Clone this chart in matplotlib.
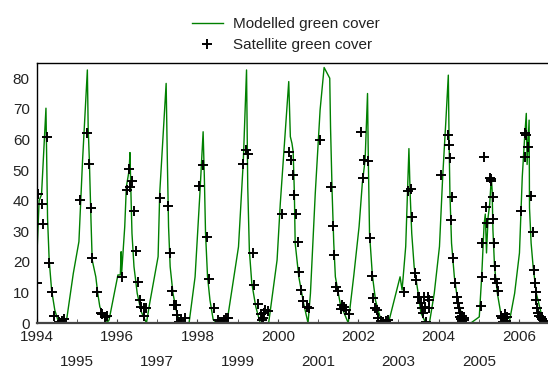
import matplotlib
matplotlib.use("Agg")
import matplotlib.pyplot as plt
import numpy as np

plt.rcParams.update({'font.family': ['Liberation Sans', 'DejaVu Sans'], 'font.size': 11,
                     'text.color': '#222222', 'xtick.color': '#222222', 'ytick.color': '#222222'})

# Modelled green cover (decimal year, %)
model_year = [1994.00, 1994.06, 1994.12, 1994.23, 1994.25, 1994.27, 1994.31, 1994.37, 1994.45, 1994.54,
              1994.62, 1994.75, 1994.91, 1995.05, 1995.14, 1995.26, 1995.28, 1995.31, 1995.35, 1995.38,
              1995.47, 1995.52, 1995.57, 1995.66, 1995.74, 1995.80, 1996.02, 1996.08, 1996.10, 1996.11,
              1996.19, 1996.23, 1996.30, 1996.32, 1996.34, 1996.37, 1996.42, 1996.50, 1996.60, 1996.73,
              1996.81, 1996.93, 1997.02, 1997.06, 1997.22, 1997.25, 1997.28, 1997.32, 1997.39, 1997.47,
              1997.56, 1997.79, 1997.94, 1998.06, 1998.14, 1998.17, 1998.20, 1998.25, 1998.31, 1998.39,
              1998.48, 1998.73, 1999.02, 1999.14, 1999.22, 1999.25, 1999.29, 1999.35, 1999.45, 1999.56,
              1999.77, 1999.98, 2000.06, 2000.27, 2000.31, 2000.35, 2000.38, 2000.41, 2000.43, 2000.52,
              2000.64, 2000.75, 2000.81, 2000.93, 2001.05, 2001.15, 2001.29, 2001.31, 2001.35, 2001.39,
              2001.43, 2001.55, 2001.75, 2001.89, 2002.02, 2002.10, 2002.17, 2002.23, 2002.25, 2002.28,
              2002.35, 2002.43, 2002.56, 2002.68, 2002.76, 2003.04, 2003.09, 2003.18, 2003.26, 2003.29,
              2003.33, 2003.39, 2003.49, 2003.56, 2003.68, 2003.77, 2003.89, 2004.02, 2004.10, 2004.18,
              2004.24, 2004.26, 2004.28, 2004.32, 2004.39, 2004.47, 2004.60, 2004.68, 2004.80, 2005.01,
              2005.07, 2005.13, 2005.16, 2005.19, 2005.23, 2005.27, 2005.31, 2005.33, 2005.35, 2005.39,
              2005.46, 2005.56, 2005.68, 2005.76, 2005.89, 2006.01, 2006.08, 2006.14, 2006.18, 2006.20,
              2006.25, 2006.26, 2006.30, 2006.35, 2006.43, 2006.55, 2006.68]
model_cover = [20.6, 40, 42, 70.2, 53, 34, 20.6, 10.8, 4.2, 0.4,
               0, 1.6, 16.2, 26.6, 53, 82.7, 64, 53, 33.7, 20.6,
               15.1, 9.6, 5.3, 2.5, 0, 1, 15.7, 15.7, 23.3, 15.7,
               31.5, 44.5, 50, 55.7, 44.5, 29.3, 18.4, 9.7, 3.7, 0,
               6.4, 15.1, 21.7, 42.4, 78.3, 53, 31.5, 18.4, 9.7, 4.2,
               0, 0, 15.1, 42.4, 62.5, 47.8, 29.3, 15.1, 7.5, 1.1,
               0, 0, 24.9, 53, 82.7, 44.5, 23.8, 13.1, 5.3, 0,
               0, 20.6, 39.1, 78.9, 60.9, 58.7, 56, 42.4, 26.1, 15.1,
               6.4, 0, 9.7, 42.4, 69.6, 83.5, 80, 63.9, 42.4, 26.1,
               15.1, 6.4, 0, 15.7, 31.5, 45.6, 53.3, 75, 53.3, 29.3,
               15.7, 7.3, 1.1, 0, 0.5, 15.1, 10.8, 25, 57, 42.4,
               29.3, 18.4, 9.7, 3.2, 0, 0, 9.7, 25, 47.8, 66.3,
               81, 58.7, 42.4, 26.1, 15.1, 7.5, 1.6, 0, 0, 2,
               15.1, 32.2, 35.6, 22.9, 34.6, 38.9, 47.7, 43.4, 30.4, 18.4,
               9.7, 2, 0, 0.5, 9.7, 22.9, 47.8, 60.9, 68.5, 51.8,
               66.3, 37.6, 26.1, 18.4, 9.7, 3.2, 0]

# Satellite green cover (decimal year, %)
sat_year = [1994.00, 1994.04, 1994.12, 1994.15, 1994.25, 1994.31, 1994.38, 1994.44, 1994.56, 1994.60,
            1994.64, 1994.69, 1995.08, 1995.24, 1995.31, 1995.34, 1995.38, 1995.49, 1995.59, 1995.62,
            1995.69, 1995.74, 1996.13, 1996.25, 1996.30, 1996.33, 1996.38, 1996.42, 1996.47, 1996.52,
            1996.56, 1996.60, 1996.67, 1996.73, 1996.67, 1997.06, 1997.27, 1997.32, 1997.37, 1997.42,
            1997.46, 1997.49, 1997.53, 1997.60, 1997.70, 1998.04, 1998.14, 1998.24, 1998.29, 1998.42,
            1998.52, 1998.56, 1998.62, 1998.67, 1998.71, 1998.77, 1999.14, 1999.21, 1999.25, 1999.37,
            1999.41, 1999.50, 1999.58, 1999.60, 1999.63, 1999.65, 1999.69, 1999.75, 2000.10, 2000.27,
            2000.33, 2000.37, 2000.40, 2000.45, 2000.49, 2000.53, 2000.58, 2000.62, 2000.72, 2000.77,
            2001.05, 2001.32, 2001.37, 2001.40, 2001.45, 2001.50, 2001.57, 2001.60, 2001.65, 2001.70,
            2001.76, 2002.08, 2002.12, 2002.14, 2002.23, 2002.28, 2002.35, 2002.37, 2002.41, 2002.47,
            2002.50, 2002.56, 2002.62, 2002.68, 2002.75, 2003.14, 2003.24, 2003.30, 2003.33, 2003.41,
            2003.44, 2003.49, 2003.52, 2003.56, 2003.58, 2003.61, 2003.64, 2003.66, 2003.68, 2003.73,
            2003.75, 2003.77, 2004.06, 2004.22, 2004.26, 2004.29, 2004.31, 2004.32, 2004.35, 2004.41,
            2004.45, 2004.47, 2004.50, 2004.52, 2004.54, 2004.56, 2004.57, 2004.58, 2004.60, 2004.62,
            2004.64, 2005.06, 2005.08, 2005.09, 2005.14, 2005.18, 2005.21, 2005.27, 2005.29, 2005.31,
            2005.35, 2005.36, 2005.38, 2005.39, 2005.41, 2005.46, 2005.48, 2005.55, 2005.57, 2005.59,
            2005.61, 2005.63, 2005.65, 2005.67, 2005.69, 2006.05, 2006.14, 2006.14, 2006.17, 2006.22,
            2006.29, 2006.35, 2006.37, 2006.40, 2006.41, 2006.43, 2006.45, 2006.47, 2006.50, 2006.54,
            2006.58, 2006.62, 2006.66]
sat_cover = [13, 42, 38.9, 32.3, 60.7, 19.7, 10, 2.3, 0.3, 0,
             0.5, 1.2, 40.2, 62.2, 52, 37.7, 21.1, 10, 3.2, 3,
             2.1, 2.4, 15.1, 43.5, 50.3, 44.5, 46.5, 36.7, 23.5, 13.5,
             7.5, 5.3, 4.9, 4.9, 2.4, 41, 38.2, 23, 10.6, 5.9,
             5.9, 2.6, 0.4, 1.1, 1.6, 44.8, 51.5, 28.2, 14.4, 4.8,
             1.1, 0.4, 0.1, 1.1, 1.6, 1.6, 51.8, 56.7, 55.1, 23,
             12.4, 6.1, 2.9, 1.1, 1.6, 3.2, 4.2, 3.9, 35.6, 56,
             53.3, 48.4, 41.8, 35.6, 26.4, 16.6, 10.8, 7.2, 5.3, 4.9,
             59.8, 44.5, 31.7, 22.2, 11.7, 10.5, 4.6, 6, 5.3, 4.4,
             3, 62.5, 47.3, 53.3, 53, 27.7, 15.4, 8.1, 4.9, 4.4,
             1.6, 0.5, 0.2, 0.5, 1.1, 10, 43.1, 43.8, 34.7, 16.2,
             14, 8.6, 8.5, 6.4, 4.9, 3.2, 8.5, 5.3, 0.3, 8.5,
             4.9, 7.4, 48.4, 61.4, 58.2, 54, 33.7, 41.3, 21.3, 13.2,
             8.4, 6.4, 4.9, 3.2, 2, 1.3, 2.4, 0.5, 0, 1.1,
             1.6, 5.6, 15.1, 26.2, 54.4, 38, 32.7, 47.5, 46.9, 46.5,
             41.3, 33.9, 26.2, 18.5, 14.4, 13, 10.6, 2.4, 1.5, 0.3,
             0, 1.6, 2.8, 0.8, 2.1, 36.7, 62, 54.1, 61.5, 57.4,
             41.5, 29.8, 17.3, 13, 10, 7.5, 4.9, 3.2, 2.4, 1.9,
             1.3, 0.5, 0]

even_years = list(range(1994, 2007, 2))
odd_years = list(range(1995, 2006, 2))

fig = plt.figure(figsize=(5.48, 3.70), dpi=100)
ax = fig.add_axes([0.067, 0.127, 0.933, 0.703])

ax.plot(model_year, model_cover, color='#008000', linewidth=1.0, label='Modelled green cover')
ax.plot(sat_year, sat_cover, linestyle='none', marker='+', color='black',
        markersize=6.5, markeredgewidth=1.4, label='Satellite green cover')

ax.set_xlim(1994, 2006.72)
ax.set_ylim(0, 85)
ax.set_yticks(range(0, 81, 10))

ax.set_xticks(even_years)
ax.set_xticklabels([str(y) for y in even_years])
ax.set_xticks(odd_years, minor=True)
ax.set_xticklabels([str(y) for y in odd_years], minor=True)
ax.tick_params(axis='x', which='both', direction='in', length=3, color='#444444')
ax.tick_params(axis='x', which='major', pad=5)
ax.tick_params(axis='x', which='minor', pad=23)
ax.tick_params(axis='y', direction='in', length=0, pad=5)

ax.spines['right'].set_visible(False)
ax.spines['bottom'].set_linewidth(1.6)
ax.spines['bottom'].set_color('#444444')
for s in ['left', 'top']:
    ax.spines[s].set_linewidth(1.0)

fig.legend(loc='upper center', bbox_to_anchor=(0.522, 0.99), frameon=False,
           handlelength=2.0, handletextpad=0.7, labelspacing=0.45, fontsize=11)

fig.savefig('out.png', dpi=100)
